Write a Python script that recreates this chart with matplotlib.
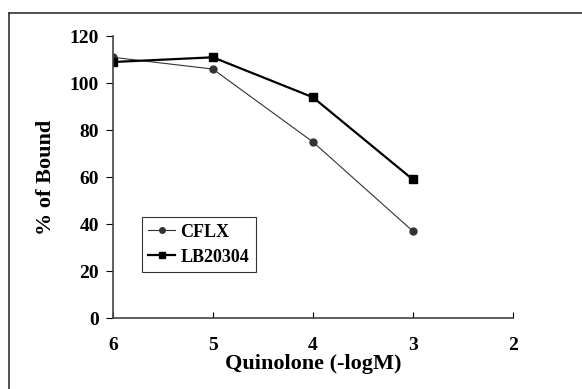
import matplotlib.pyplot as plt
from matplotlib.lines import Line2D

# data
conc = [6, 5, 4, 3]
cflx = [111, 106, 75, 37]
lb20304 = [109, 111, 94, 59]
x_ticks = [6, 5, 4, 3, 2]
y_ticks = [0, 20, 40, 60, 80, 100, 120]

plt.rcParams['font.family'] = ['Liberation Serif', 'DejaVu Serif']
plt.rcParams['font.weight'] = 'bold'

fig = plt.figure(figsize=(5.82, 3.89), dpi=100)
ax = fig.add_axes([0.194, 0.1825, 0.687, 0.7245])

ax.plot(conc, cflx, '-', color='#333333', lw=0.8, marker='o', ms=5, label='CFLX')
ax.plot(conc, lb20304, '-', color='black', lw=1.6, marker='s', ms=6, label='LB20304')

ax.set_xlim(6, 2)
ax.set_ylim(0, 120)
ax.set_xticks(x_ticks)
ax.set_yticks(y_ticks)
ax.tick_params(axis='x', direction='in', length=4, pad=14, labelsize=14)
ax.tick_params(axis='y', direction='out', length=5, pad=5, labelsize=14)
for s in ['top', 'right']:
    ax.spines[s].set_visible(False)
for s in ['left', 'bottom']:
    ax.spines[s].set_color('#444444')
    ax.spines[s].set_linewidth(1.2)
for lab in ax.get_xticklabels() + ax.get_yticklabels():
    lab.set_fontweight('bold')

ax.set_xlabel('Quinolone (-logM)', fontsize=16, fontweight='bold', labelpad=0)
ax.set_ylabel('% of Bound', fontsize=16, fontweight='bold', labelpad=10)

leg = ax.legend(loc='lower left', bbox_to_anchor=(0.072, 0.163), fontsize=13,
                frameon=True, fancybox=False, edgecolor='black',
                handlelength=1.5, handletextpad=0.3, borderpad=0.35,
                labelspacing=0.45, markerscale=0.8, borderaxespad=0)
leg.get_frame().set_linewidth(0.8)
for t in leg.get_texts():
    t.set_fontweight('bold')

# outer frame of the scanned page
fig.add_artist(Line2D([9/582, 1], [1 - 13/389, 1 - 13/389], color='#333333', lw=1.2))
fig.add_artist(Line2D([9/582, 9/582], [0, 1 - 13/389], color='#333333', lw=1.2))

fig.savefig('out.png', dpi=100)
